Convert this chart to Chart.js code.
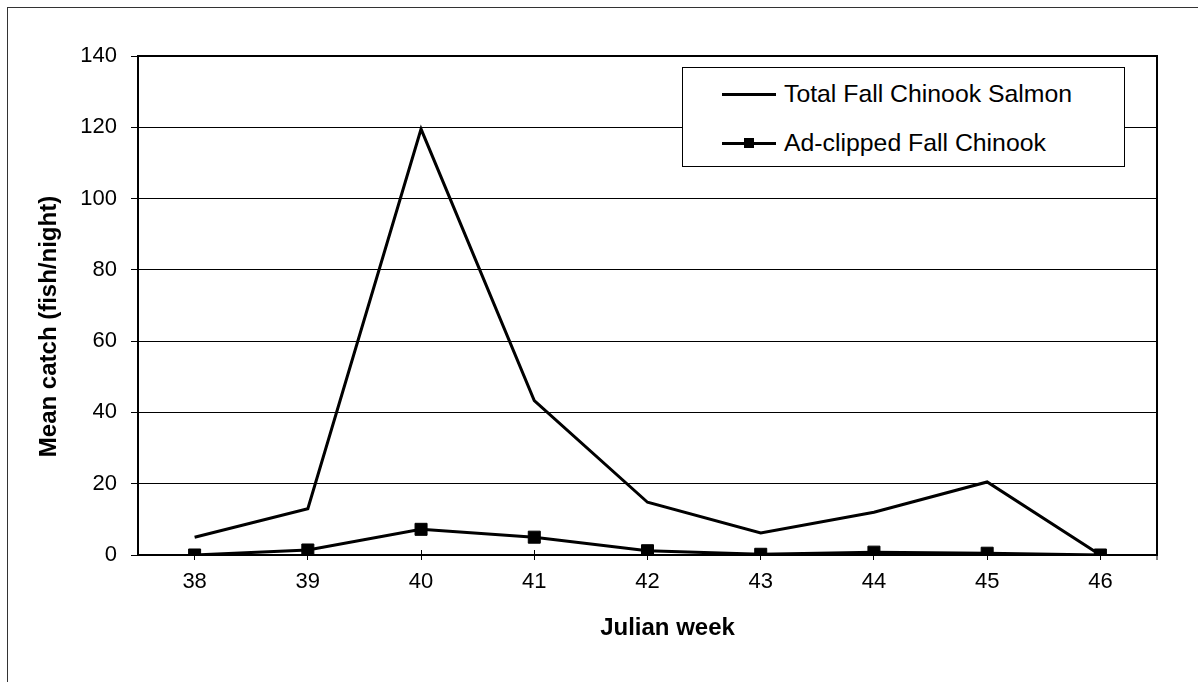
<!DOCTYPE html>
<html lang="en">
<head>
  <meta charset="UTF-8">
  <title>Mean catch by Julian week</title>
  <style>
    body {
      margin: 0;
      background-color: #ffffff;
      font-family: "Liberation Sans", Arial, sans-serif;
    }
    #wrap {
      position: relative;
      width: 1198px;
      height: 682px;
      overflow: hidden;
    }
    /* outer chart frame, cropped at right and bottom */
    #frame {
      position: absolute;
      left: 7px;
      top: 7px;
      width: 1400px;
      height: 900px;
      border-left: 1px solid #333;
      border-top: 1px solid #333;
    }
    canvas {
      position: absolute;
      left: 0;
      top: 0;
    }
    #legend {
      position: absolute;
      left: 682px;
      top: 67px;
      width: 441px;
      height: 98px;
      border: 1px solid #000;
      background: #fff;
      font-size: 24.8px;
      color: #000;
    }
    .row {
      position: absolute;
      left: 39px;
      height: 24px;
      display: flex;
      align-items: center;
      white-space: nowrap;
    }
    .swatch {
      position: relative;
      width: 54px;
      height: 3px;
      background: #000;
      margin-right: 8px;
    }
    .swatch .mark {
      position: absolute;
      left: 22px;
      top: -4px;
      width: 10px;
      height: 10px;
      background: #000;
    }
  </style>
  <script src="https://cdn.jsdelivr.net/npm/chart.js"></script>
</head>
<body>
  <div id="wrap">
    <div id="frame"></div>
    <canvas id="catchChart" width="1198" height="682"></canvas>
    <div id="legend">
      <div class="row" style="top: 14px;"><div class="swatch"></div><span>Total Fall Chinook Salmon</span></div>
      <div class="row" style="top: 63px;"><div class="swatch"><div class="mark"></div></div><span>Ad-clipped Fall Chinook</span></div>
    </div>
  </div>

  <script>
    const weeks = ['38', '39', '40', '41', '42', '43', '44', '45', '46'];
    const totalFallChinook = [5, 13, 119.5, 43.3, 14.8, 6.2, 12, 20.5, 0];
    const adClippedFallChinook = [0, 1.4, 7.2, 5, 1.2, 0.2, 0.8, 0.5, 0];
    const yTicks = [0, 20, 40, 60, 80, 100, 120, 140];
    const xTitle = 'Julian week';
    const yTitle = 'Mean catch (fish/night)';

    // box around the plot area, tick marks that cross the x axis, axis titles
    const plotFrame = {
      id: 'plotFrame',
      afterDatasetsDraw(chart) {
        const { ctx, chartArea } = chart;
        const xScale = chart.scales.x;
        ctx.save();
        ctx.strokeStyle = '#000';
        ctx.lineWidth = 2;
        ctx.strokeRect(chartArea.left, chartArea.top, chartArea.right - chartArea.left, chartArea.bottom - chartArea.top);
        ctx.lineWidth = 1;
        ctx.beginPath();
        weeks.forEach((w, i) => {
          const px = Math.round(xScale.getPixelForValue(i)) + 0.5;
          ctx.moveTo(px, chartArea.bottom - 5);
          ctx.lineTo(px, chartArea.bottom);
        });
        ctx.moveTo(chartArea.right, chartArea.bottom);
        ctx.lineTo(chartArea.right, chartArea.bottom + 5);
        ctx.stroke();

        // axis titles (Excel puts them a bit off the plot centre)
        const midX = (chartArea.left + chartArea.right) / 2;
        const midY = (chartArea.top + chartArea.bottom) / 2;
        ctx.fillStyle = '#000';
        ctx.font = 'bold 24px "Liberation Sans", Arial, sans-serif';
        ctx.textAlign = 'center';
        ctx.textBaseline = 'alphabetic';
        ctx.fillText(xTitle, midX + 20, chartArea.bottom + 80);
        ctx.translate(chartArea.left - 82, midY + 21);
        ctx.rotate(-Math.PI / 2);
        ctx.fillText(yTitle, 0, 0);
        ctx.restore();
      }
    };

    const ctx = document.getElementById('catchChart').getContext('2d');
    const catchChart = new Chart(ctx, {
      type: 'line',
      data: {
        labels: weeks,
        datasets: [
          {
            label: 'Total Fall Chinook Salmon',
            data: totalFallChinook,
            borderColor: '#000',
            borderWidth: 3,
            pointRadius: 0,
            tension: 0,
            fill: false
          },
          {
            label: 'Ad-clipped Fall Chinook',
            data: adClippedFallChinook,
            borderColor: '#000',
            backgroundColor: '#000',
            borderWidth: 3,
            pointStyle: 'rect',
            pointRadius: 8.5,
            pointBorderWidth: 1,
            tension: 0,
            fill: false
          }
        ]
      },
      options: {
        responsive: false,
        animation: false,
        devicePixelRatio: 1,
        layout: {
          padding: { left: 0, top: 56, right: 41, bottom: 0 }
        },
        plugins: {
          legend: { display: false },
          tooltip: { enabled: false }
        },
        scales: {
          x: {
            offset: true,
            grid: {
              offset: false,
              drawOnChartArea: false,
              tickLength: 5,
              color: '#000'
            },
            border: { color: '#000', width: 2 },
            ticks: {
              color: '#000',
              padding: 9,
              font: { family: 'Liberation Sans', size: 22 }
            },
            afterFit(scale) {
              scale.height = 127;
            }
          },
          y: {
            min: 0,
            max: 140,
            afterBuildTicks(scale) {
              scale.ticks = yTicks.map(v => ({ value: v }));
            },
            grid: {
              color: '#000',
              lineWidth: 1,
              tickLength: 7
            },
            border: { color: '#000', width: 2 },
            ticks: {
              color: '#000',
              padding: 14,
              font: { family: 'Liberation Sans', size: 22 }
            },
            afterFit(scale) {
              scale.width = 138;
            }
          }
        }
      },
      plugins: [plotFrame]
    });
  </script>
</body>
</html>
